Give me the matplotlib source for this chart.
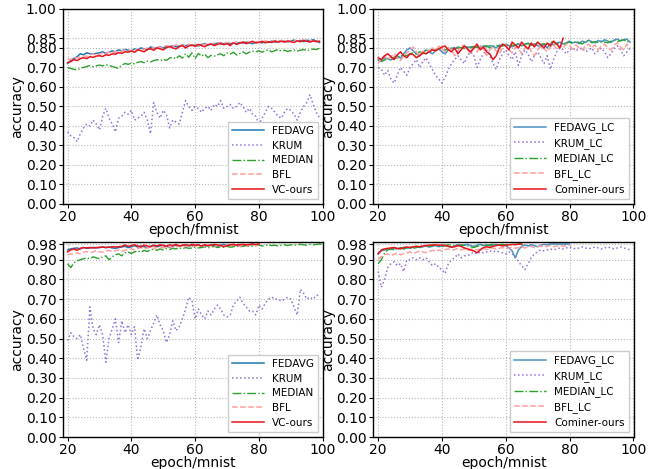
import matplotlib
matplotlib.use("Agg")
import matplotlib.pyplot as plt
import numpy as np

# ---------------- data ----------------
ep_tl = list(range(20, 100))

fm_fedavg = [0.720, 0.735, 0.745, 0.755, 0.770, 0.765, 0.775, 0.770, 0.768, 0.772,
             0.775, 0.780, 0.772, 0.778, 0.785, 0.780, 0.790, 0.785, 0.792, 0.788,
             0.785, 0.795, 0.790, 0.800, 0.795, 0.790, 0.805, 0.800, 0.798, 0.805,
             0.800, 0.808, 0.805, 0.812, 0.806, 0.810, 0.815, 0.810, 0.818, 0.812,
             0.815, 0.810, 0.818, 0.822, 0.815, 0.820, 0.818, 0.825, 0.820, 0.822,
             0.825, 0.820, 0.826, 0.822, 0.828, 0.825, 0.830, 0.826, 0.822, 0.828,
             0.830, 0.826, 0.832, 0.828, 0.835, 0.830, 0.832, 0.838, 0.834, 0.830,
             0.836, 0.840, 0.835, 0.838, 0.832, 0.840, 0.836, 0.842, 0.835, 0.828]
fm_krum = [0.37, 0.35, 0.34, 0.32, 0.36, 0.39, 0.41, 0.40, 0.43, 0.41,
           0.38, 0.45, 0.49, 0.44, 0.41, 0.37, 0.44, 0.45, 0.47, 0.46,
           0.48, 0.43, 0.44, 0.45, 0.47, 0.43, 0.36, 0.52, 0.47, 0.44,
           0.48, 0.46, 0.39, 0.43, 0.42, 0.41, 0.47, 0.53, 0.50, 0.48,
           0.50, 0.49, 0.47, 0.49, 0.50, 0.48, 0.51, 0.50, 0.53, 0.49,
           0.50, 0.51, 0.49, 0.50, 0.52, 0.50, 0.47, 0.49, 0.46, 0.45,
           0.41, 0.44, 0.47, 0.50, 0.49, 0.47, 0.45, 0.44, 0.47, 0.49,
           0.48, 0.46, 0.43, 0.47, 0.50, 0.52, 0.56, 0.51, 0.47, 0.44]
fm_median = [0.700, 0.695, 0.690, 0.688, 0.695, 0.700, 0.705, 0.710, 0.704, 0.708,
             0.712, 0.708, 0.715, 0.710, 0.705, 0.700, 0.695, 0.712, 0.720, 0.716,
             0.722, 0.718, 0.726, 0.730, 0.724, 0.732, 0.728, 0.735, 0.740, 0.734,
             0.742, 0.736, 0.748, 0.752, 0.744, 0.760, 0.748, 0.770, 0.752, 0.775,
             0.745, 0.772, 0.758, 0.768, 0.750, 0.762, 0.758, 0.765, 0.770, 0.760,
             0.775, 0.768, 0.778, 0.764, 0.772, 0.780, 0.770, 0.778, 0.784, 0.780,
             0.785, 0.778, 0.786, 0.790, 0.780, 0.786, 0.792, 0.784, 0.788, 0.782,
             0.786, 0.790, 0.784, 0.788, 0.792, 0.786, 0.790, 0.794, 0.792, 0.798]
fm_bfl = [0.745, 0.740, 0.752, 0.748, 0.755, 0.760, 0.756, 0.764, 0.770, 0.762,
          0.768, 0.774, 0.770, 0.778, 0.774, 0.782, 0.776, 0.784, 0.790, 0.782,
          0.788, 0.794, 0.786, 0.796, 0.792, 0.800, 0.794, 0.802, 0.808, 0.800,
          0.806, 0.812, 0.804, 0.810, 0.816, 0.808, 0.814, 0.810, 0.818, 0.812,
          0.820, 0.814, 0.822, 0.816, 0.824, 0.818, 0.826, 0.820, 0.828, 0.822,
          0.826, 0.830, 0.824, 0.832, 0.826, 0.830, 0.834, 0.826, 0.832, 0.828,
          0.834, 0.830, 0.836, 0.832, 0.830, 0.836, 0.832, 0.838, 0.834, 0.830,
          0.836, 0.840, 0.834, 0.838, 0.842, 0.836, 0.840, 0.834, 0.838, 0.836]
fm_vc = [0.725, 0.730, 0.740, 0.735, 0.745, 0.750, 0.745, 0.755, 0.752, 0.758,
         0.760, 0.756, 0.765, 0.762, 0.770, 0.768, 0.776, 0.772, 0.780, 0.778,
         0.784, 0.778, 0.790, 0.786, 0.780, 0.792, 0.796, 0.788, 0.800, 0.795,
         0.790, 0.802, 0.808, 0.800, 0.795, 0.806, 0.812, 0.800, 0.810, 0.815,
         0.808, 0.818, 0.812, 0.806, 0.816, 0.820, 0.812, 0.818, 0.824, 0.816,
         0.822, 0.812, 0.826, 0.818, 0.824, 0.830, 0.822, 0.828, 0.834, 0.826,
         0.828, 0.834, 0.826, 0.832, 0.828, 0.836, 0.830, 0.834, 0.830, 0.836,
         0.832, 0.828, 0.836, 0.832, 0.838, 0.834, 0.830, 0.836, 0.832, 0.834]

fmlc_fedavg = [0.740, 0.735, 0.750, 0.745, 0.738, 0.752, 0.760, 0.748, 0.770, 0.790,
               0.800, 0.785, 0.770, 0.760, 0.775, 0.790, 0.780, 0.770, 0.785, 0.795,
               0.780, 0.770, 0.790, 0.800, 0.795, 0.805, 0.800, 0.808, 0.802, 0.806,
               0.804, 0.806, 0.800, 0.810, 0.805, 0.812, 0.808, 0.800, 0.815, 0.810,
               0.820, 0.812, 0.805, 0.815, 0.822, 0.810, 0.818, 0.825, 0.815, 0.820,
               0.812, 0.805, 0.818, 0.800, 0.822, 0.815, 0.825, 0.830, 0.820, 0.826,
               0.835, 0.826, 0.830, 0.822, 0.835, 0.828, 0.840, 0.832, 0.826, 0.838,
               0.830, 0.842, 0.835, 0.828, 0.840, 0.845, 0.836, 0.842, 0.845, 0.830]
fmlc_krum = [0.700, 0.690, 0.660, 0.685, 0.640, 0.620, 0.660, 0.700, 0.680, 0.660,
             0.700, 0.720, 0.740, 0.700, 0.730, 0.750, 0.720, 0.690, 0.660, 0.640,
             0.620, 0.650, 0.690, 0.720, 0.740, 0.760, 0.740, 0.720, 0.760, 0.780,
             0.760, 0.700, 0.740, 0.770, 0.790, 0.760, 0.720, 0.690, 0.740, 0.770,
             0.790, 0.760, 0.740, 0.780, 0.710, 0.760, 0.790, 0.770, 0.730, 0.760,
             0.780, 0.750, 0.720, 0.760, 0.690, 0.740, 0.780, 0.800, 0.790, 0.770,
             0.790, 0.800, 0.785, 0.795, 0.800, 0.780, 0.790, 0.800, 0.770, 0.785,
             0.800, 0.780, 0.750, 0.770, 0.800, 0.810, 0.790, 0.760, 0.780, 0.800]
fmlc_median = [0.735, 0.730, 0.738, 0.745, 0.740, 0.752, 0.748, 0.758, 0.765, 0.760,
               0.770, 0.775, 0.768, 0.780, 0.775, 0.790, 0.785, 0.795, 0.788, 0.800,
               0.795, 0.788, 0.800, 0.792, 0.805, 0.798, 0.802, 0.796, 0.806, 0.800,
               0.808, 0.802, 0.810, 0.805, 0.812, 0.800, 0.808, 0.815, 0.806, 0.812,
               0.818, 0.808, 0.815, 0.812, 0.820, 0.814, 0.818, 0.822, 0.815, 0.820,
               0.825, 0.818, 0.822, 0.815, 0.828, 0.832, 0.820, 0.826, 0.818, 0.824,
               0.830, 0.822, 0.834, 0.828, 0.820, 0.832, 0.838, 0.826, 0.832, 0.828,
               0.836, 0.830, 0.826, 0.834, 0.840, 0.832, 0.838, 0.842, 0.830, 0.836]
fmlc_bfl = [0.720, 0.745, 0.760, 0.740, 0.755, 0.770, 0.750, 0.735, 0.760, 0.775,
            0.790, 0.805, 0.780, 0.760, 0.785, 0.770, 0.790, 0.800, 0.780, 0.810,
            0.795, 0.780, 0.800, 0.790, 0.760, 0.785, 0.805, 0.815, 0.790, 0.770,
            0.800, 0.780, 0.810, 0.795, 0.760, 0.790, 0.805, 0.785, 0.770, 0.800,
            0.815, 0.790, 0.775, 0.805, 0.795, 0.770, 0.800, 0.810, 0.785, 0.760,
            0.790, 0.810, 0.795, 0.780, 0.805, 0.820, 0.790, 0.810, 0.800, 0.820,
            0.810, 0.795, 0.815, 0.800, 0.790, 0.810, 0.820, 0.800, 0.815, 0.790,
            0.810, 0.820, 0.800, 0.790, 0.815, 0.825, 0.805, 0.790, 0.820, 0.800]
ep_fmlc_cominer = list(range(20, 79))
fmlc_cominer = [0.750, 0.740, 0.760, 0.770, 0.755, 0.740, 0.765, 0.780, 0.760, 0.750,
                0.770, 0.765, 0.750, 0.760, 0.775, 0.770, 0.780, 0.790, 0.785, 0.795,
                0.805, 0.810, 0.790, 0.780, 0.800, 0.770, 0.790, 0.810, 0.795, 0.780,
                0.800, 0.820, 0.790, 0.805, 0.780, 0.770, 0.740, 0.760, 0.800, 0.820,
                0.810, 0.790, 0.830, 0.815, 0.800, 0.830, 0.810, 0.795, 0.825, 0.805,
                0.830, 0.815, 0.800, 0.825, 0.810, 0.835, 0.820, 0.800, 0.850]

ep_m80 = list(range(20, 81))
ep_m100 = list(range(20, 101))
mn_fedavg = [0.950, 0.955, 0.958, 0.960, 0.955, 0.962, 0.958, 0.960, 0.963, 0.960,
             0.962, 0.965, 0.962, 0.964, 0.960, 0.958, 0.962, 0.965, 0.968, 0.962,
             0.966, 0.972, 0.964, 0.970, 0.966, 0.962, 0.968, 0.972, 0.966, 0.970,
             0.974, 0.968, 0.964, 0.970, 0.974, 0.968, 0.972, 0.976, 0.970, 0.974,
             0.972, 0.976, 0.968, 0.974, 0.970, 0.976, 0.972, 0.966, 0.974, 0.978,
             0.972, 0.976, 0.970, 0.974, 0.978, 0.972, 0.976, 0.974, 0.978, 0.976, 0.978]
mn_krum = [0.49, 0.53, 0.51, 0.50, 0.52, 0.45, 0.39, 0.66, 0.55, 0.52,
           0.57, 0.52, 0.38, 0.50, 0.55, 0.60, 0.48, 0.59, 0.53, 0.57,
           0.52, 0.56, 0.39, 0.46, 0.55, 0.50, 0.54, 0.58, 0.62, 0.57,
           0.54, 0.48, 0.52, 0.59, 0.54, 0.56, 0.60, 0.65, 0.71, 0.69,
           0.60, 0.65, 0.62, 0.60, 0.64, 0.62, 0.65, 0.67, 0.65, 0.62,
           0.61, 0.62, 0.67, 0.69, 0.71, 0.68, 0.66, 0.64, 0.64, 0.62,
           0.67, 0.65, 0.68, 0.70, 0.71, 0.70, 0.70, 0.69, 0.70, 0.71,
           0.70, 0.66, 0.62, 0.75, 0.73, 0.70, 0.71, 0.70, 0.72, 0.72]
mn_median = [0.880, 0.860, 0.885, 0.895, 0.900, 0.905, 0.910, 0.905, 0.915, 0.910,
             0.905, 0.915, 0.920, 0.900, 0.915, 0.925, 0.930, 0.920, 0.935, 0.940,
             0.932, 0.940, 0.945, 0.938, 0.948, 0.942, 0.950, 0.954, 0.948, 0.955,
             0.950, 0.956, 0.952, 0.958, 0.955, 0.960, 0.956, 0.962, 0.958, 0.960,
             0.964, 0.960, 0.962, 0.966, 0.960, 0.964, 0.968, 0.962, 0.966, 0.964,
             0.968, 0.964, 0.966, 0.970, 0.966, 0.968, 0.972, 0.968, 0.970, 0.972,
             0.974, 0.970, 0.972, 0.976, 0.972, 0.974, 0.970, 0.974, 0.976, 0.972,
             0.976, 0.974, 0.976, 0.978, 0.976, 0.974, 0.978, 0.976, 0.978, 0.980, 0.978]
mn_bfl = [0.925, 0.930, 0.928, 0.935, 0.930, 0.938, 0.942, 0.936, 0.940, 0.945,
          0.940, 0.938, 0.944, 0.948, 0.942, 0.946, 0.950, 0.944, 0.948, 0.952,
          0.955, 0.950, 0.958, 0.962, 0.956, 0.960, 0.964, 0.958, 0.962, 0.966,
          0.960, 0.964, 0.968, 0.962, 0.966, 0.970, 0.964, 0.968, 0.972, 0.966,
          0.970, 0.966, 0.972, 0.968, 0.974, 0.970, 0.966, 0.972, 0.976, 0.970,
          0.974, 0.970, 0.976, 0.972, 0.968, 0.974, 0.970, 0.976, 0.972, 0.974, 0.976]
mn_vc = [0.940, 0.950, 0.955, 0.948, 0.958, 0.962, 0.960, 0.962, 0.960, 0.962,
         0.963, 0.964, 0.962, 0.964, 0.966, 0.965, 0.966, 0.968, 0.975, 0.968,
         0.972, 0.976, 0.970, 0.965, 0.974, 0.970, 0.966, 0.974, 0.970, 0.976,
         0.972, 0.968, 0.976, 0.972, 0.978, 0.970, 0.974, 0.976, 0.972, 0.978,
         0.974, 0.976, 0.970, 0.976, 0.972, 0.974, 0.978, 0.975, 0.972, 0.966,
         0.972, 0.976, 0.978, 0.974, 0.976, 0.978, 0.976, 0.978, 0.980, 0.978, 0.980]

mnlc_fedavg = [0.930, 0.945, 0.950, 0.955, 0.952, 0.958, 0.955, 0.960, 0.956, 0.962,
               0.958, 0.964, 0.968, 0.962, 0.966, 0.970, 0.964, 0.968, 0.972, 0.966,
               0.970, 0.974, 0.968, 0.964, 0.972, 0.976, 0.970, 0.974, 0.978, 0.972,
               0.968, 0.974, 0.978, 0.972, 0.976, 0.970, 0.975, 0.978, 0.974, 0.976,
               0.972, 0.960, 0.945, 0.910, 0.950, 0.968, 0.975, 0.970, 0.976, 0.972,
               0.966, 0.974, 0.978, 0.976, 0.980, 0.980, 0.980, 0.980, 0.980, 0.980, 0.980]
mnlc_krum = [0.84, 0.76, 0.80, 0.86, 0.88, 0.89, 0.87, 0.88, 0.84, 0.90,
             0.90, 0.91, 0.90, 0.91, 0.90, 0.91, 0.89, 0.87, 0.88, 0.86,
             0.85, 0.83, 0.88, 0.90, 0.91, 0.93, 0.91, 0.92, 0.92, 0.93,
             0.94, 0.93, 0.94, 0.935, 0.94, 0.945, 0.94, 0.945, 0.94, 0.935,
             0.93, 0.94, 0.93, 0.92, 0.89, 0.87, 0.85, 0.88, 0.91, 0.93,
             0.94, 0.95, 0.945, 0.95, 0.955, 0.95, 0.955, 0.96, 0.955, 0.96,
             0.965, 0.96, 0.955, 0.96, 0.965, 0.96, 0.955, 0.96, 0.965, 0.96,
             0.955, 0.96, 0.965, 0.96, 0.955, 0.96, 0.965, 0.96, 0.955, 0.95]
ep_mnlc_median = list(range(20, 67))
mnlc_median = [0.880, 0.900, 0.935, 0.950, 0.955, 0.950, 0.958, 0.962, 0.955, 0.960,
               0.964, 0.958, 0.962, 0.966, 0.970, 0.974, 0.970, 0.972, 0.975, 0.970,
               0.966, 0.972, 0.976, 0.972, 0.968, 0.972, 0.976, 0.974, 0.970, 0.966,
               0.962, 0.968, 0.972, 0.975, 0.972, 0.976, 0.978, 0.974, 0.976, 0.978,
               0.975, 0.978, 0.976, 0.978, 0.980, 0.978, 0.980]
mnlc_bfl = [0.900, 0.915, 0.925, 0.930, 0.920, 0.928, 0.935, 0.925, 0.930, 0.935,
            0.940, 0.932, 0.938, 0.945, 0.940, 0.935, 0.942, 0.948, 0.944, 0.950,
            0.945, 0.952, 0.955, 0.948, 0.952, 0.958, 0.950, 0.955, 0.948, 0.952,
            0.956, 0.950, 0.954, 0.958, 0.952, 0.956, 0.960, 0.955, 0.958, 0.962,
            0.955, 0.960, 0.964, 0.958, 0.962, 0.966, 0.960, 0.964, 0.968, 0.962,
            0.966, 0.970, 0.964, 0.968, 0.972, 0.966, 0.970, 0.974, 0.968, 0.972, 0.975]
ep_mnlc_cominer = list(range(20, 66))
mnlc_cominer = [0.930, 0.950, 0.955, 0.958, 0.960, 0.962, 0.958, 0.955, 0.962, 0.965,
                0.962, 0.966, 0.968, 0.966, 0.970, 0.972, 0.974, 0.975, 0.975, 0.974,
                0.975, 0.972, 0.968, 0.964, 0.966, 0.972, 0.968, 0.960, 0.955, 0.950,
                0.945, 0.935, 0.950, 0.962, 0.966, 0.962, 0.968, 0.972, 0.975, 0.970,
                0.974, 0.976, 0.978, 0.977, 0.979, 0.980]

yticks_fm = [0.0, 0.1, 0.2, 0.3, 0.4, 0.5, 0.6, 0.7, 0.8, 0.85, 1.0]
yticks_mn = [0.0, 0.1, 0.2, 0.3, 0.4, 0.5, 0.6, 0.7, 0.8, 0.9, 0.98]
xticks = [20, 40, 60, 80, 100]

# ---------------- styles ----------------
C_BLUE = '#1f77b4'
C_PURPLE = '#9370db'
C_GREEN = '#2ca02c'
C_PINK = '#ff9f9f'
C_RED = '#e8141a'

fig, axes = plt.subplots(2, 2, figsize=(6.68, 4.69), dpi=100)
fig.subplots_adjust(left=0.094, right=0.949, top=0.981, bottom=0.068,
                    hspace=0.195, wspace=0.192)


def style(ax, yticks, ytop, xlabel):
    ax.set_xlim(18.5, 100.2)
    ax.set_ylim(0, ytop)
    ax.set_xticks(xticks)
    ax.set_yticks(yticks)
    ax.set_yticklabels(['%.2f' % v for v in yticks])
    ax.grid(True, linestyle=':', color='#b8b8b8', linewidth=0.8)
    ax.set_axisbelow(True)
    ax.set_xlabel(xlabel, fontsize=10, labelpad=-1)
    ax.set_ylabel('accuracy', fontsize=10, labelpad=1)
    ax.tick_params(labelsize=10, length=3, pad=1.5)
    for s in ax.spines.values():
        s.set_linewidth(1.0)
        s.set_color('black')
    ax.legend(loc='lower right', fontsize=7.5, handlelength=3,
              fancybox=False, framealpha=1, borderpad=0.4, labelspacing=0.45)


# TL
ax = axes[0, 0]
ax.plot(ep_tl, fm_fedavg, color=C_BLUE, lw=1.1, label='FEDAVG')
ax.plot(ep_tl, fm_krum, color=C_PURPLE, lw=1.1, ls=':', label='KRUM')
ax.plot(ep_tl, fm_median, color=C_GREEN, lw=1.0, ls='-.', label='MEDIAN')
ax.plot(ep_tl, fm_bfl, color=C_PINK, lw=1.1, ls='--', label='BFL')
ax.plot(ep_tl, fm_vc, color=C_RED, lw=1.1, label='VC-ours')
style(ax, yticks_fm, 1.0, 'epoch/fmnist')

# TR
ax = axes[0, 1]
ax.plot(ep_tl, fmlc_fedavg, color=C_BLUE, lw=1.1, alpha=0.8, label='FEDAVG_LC')
ax.plot(ep_tl, fmlc_krum, color=C_PURPLE, lw=1.1, ls=':', label='KRUM_LC')
ax.plot(ep_tl, fmlc_median, color=C_GREEN, lw=1.0, ls='-.', label='MEDIAN_LC')
ax.plot(ep_tl, fmlc_bfl, color=C_PINK, lw=1.1, ls='--', label='BFL_LC')
ax.plot(ep_fmlc_cominer, fmlc_cominer, color=C_RED, lw=1.1, label='Cominer-ours')
style(ax, yticks_fm, 1.0, 'epoch/fmnist')

# BL
ax = axes[1, 0]
ax.plot(ep_m80, mn_fedavg, color=C_BLUE, lw=1.1, label='FEDAVG')
ax.plot(ep_tl, mn_krum, color=C_PURPLE, lw=1.1, ls=':', label='KRUM')
ax.plot(ep_m100, mn_median, color=C_GREEN, lw=1.0, ls='-.', label='MEDIAN')
ax.plot(ep_m80, mn_bfl, color=C_PINK, lw=1.1, ls='--', label='BFL')
ax.plot(ep_m80, mn_vc, color=C_RED, lw=1.1, label='VC-ours')
style(ax, yticks_mn, 0.99, 'epoch/mnist')

# BR
ax = axes[1, 1]
ax.plot(ep_m80, mnlc_fedavg, color=C_BLUE, lw=1.1, alpha=0.8, label='FEDAVG_LC')
ax.plot(ep_tl, mnlc_krum, color=C_PURPLE, lw=1.1, ls=':', label='KRUM_LC')
ax.plot(ep_mnlc_median, mnlc_median, color=C_GREEN, lw=1.0, ls='-.', label='MEDIAN_LC')
ax.plot(ep_m80, mnlc_bfl, color=C_PINK, lw=1.1, ls='--', label='BFL_LC')
ax.plot(ep_mnlc_cominer, mnlc_cominer, color=C_RED, lw=1.1, label='Cominer-ours')
style(ax, yticks_mn, 0.99, 'epoch/mnist')

fig.savefig('out.png', dpi=100)
